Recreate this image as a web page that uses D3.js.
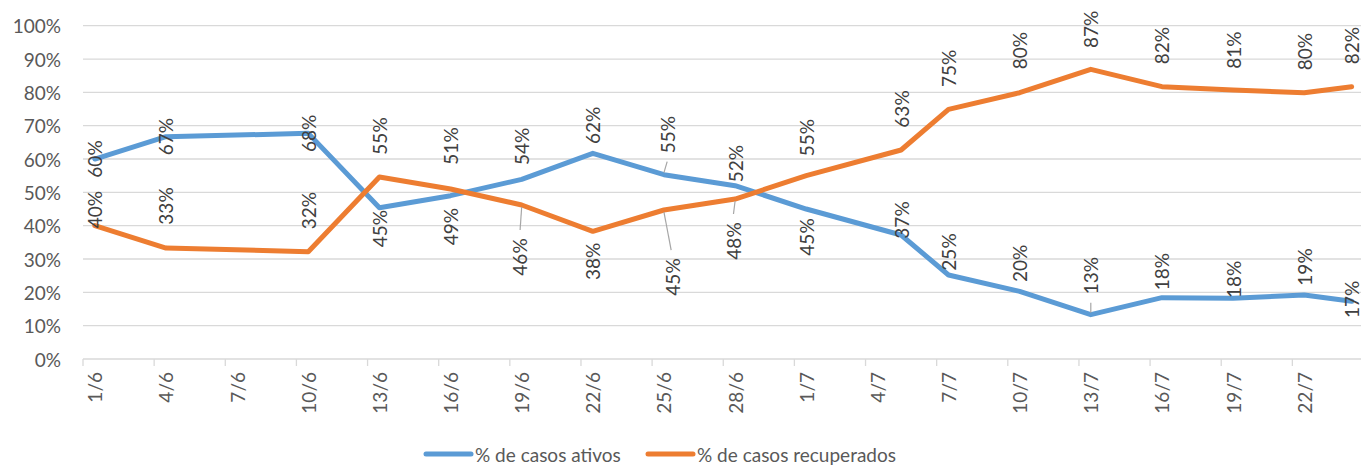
<!DOCTYPE html>
<html>
<head>
<meta charset="utf-8">
<script src="https://cdn.jsdelivr.net/npm/d3@7"></script>
<style>
  body { margin: 0; background: #fff; }
  svg text { font-family: Lato, "Open Sans", sans-serif; }
</style>
</head>
<body>
<div id="chart"></div>
<script>
// data
var dates = ["1/6", "4/6", "10/6", "13/6", "16/6", "19/6", "22/6", "25/6", "28/6",
             "1/7", "5/7", "7/7", "10/7", "13/7", "16/7", "19/7", "22/7", "24/7"];
var ativos = [0.600, 0.667, 0.677, 0.454, 0.490, 0.539, 0.617, 0.553, 0.520,
              0.450, 0.372, 0.252, 0.203, 0.133, 0.184, 0.182, 0.192, 0.173];
var recuperados = [0.400, 0.333, 0.322, 0.546, 0.510, 0.462, 0.383, 0.447, 0.480,
                   0.550, 0.627, 0.749, 0.799, 0.869, 0.817, 0.807, 0.799, 0.817];
var yTicks = [0, 0.1, 0.2, 0.3, 0.4, 0.5, 0.6, 0.7, 0.8, 0.9, 1];
var seriesNames = ["% de casos ativos", "% de casos recuperados"];

// label placement (how the labels were shifted in the original)
var ativosLabelDy = [0, 0, 0, 21, 31, -33, -28, -40, -22, 28, -15, -23, -28, -39, -26, -19, -28, -2];
var recupLabelDy = [-16, -42, -41, -41, -43, 52, 30, 67, 42, -38, -41, -41, -42, -40, -41, -40, -41, -41];
var ativosLabelDx = [0, 0, 0, 0, 0, 0, 0, 4, 0, 0, 0, 0, 0, 0, 0, 0, 0, 0];
var recupLabelDx = [0, 0, 0, 0, 0, -2, 0, 9, -2, 0, 0, 0, 0, 0, 0, 0, 0, 0];
var ativosLeader = [7, 13];
var recupLeader = [5, 7, 8];

var width = 1361;
var height = 465;
var colors = ["#5b9bd5", "#ed7d31"];

var svg = d3.select("#chart").append("svg")
    .attr("width", width)
    .attr("height", height);

var parse = d3.timeParse("%d/%m/%Y");
function toDate(s) { return parse(s + "/2020"); }

// x is a date axis, each day is one slot; points sit in the middle of the slot
var xScale = d3.scaleTime()
    .domain([toDate("1/6"), toDate("25/7")])
    .range([83, 1363.5]);
var yScale = d3.scaleLinear()
    .domain([0, 1])
    .range([359, 25.7]);

function xMid(s) { return xScale(d3.timeHour.offset(toDate(s), 12)); }

// gridlines
svg.append("g").selectAll("line").data(yTicks).enter()
    .append("line")
    .attr("x1", xScale.range()[0])
    .attr("x2", width)
    .attr("y1", function(d) { return yScale(d); })
    .attr("y2", function(d) { return yScale(d); })
    .attr("stroke", "#d9d9d9")
    .attr("stroke-width", 1.3);

// y labels
svg.append("g").selectAll("text").data(yTicks).enter()
    .append("text")
    .attr("x", 61)
    .attr("y", function(d) { return yScale(d); })
    .attr("text-anchor", "end")
    .attr("dominant-baseline", "central")
    .attr("font-size", 19)
    .attr("fill", "#595959")
    .text(d3.format(".0%"));

// x tick marks every 3 days
var tickDates = d3.timeDay.range(toDate("1/6"), toDate("25/7"), 1)
    .filter(function(d, i) { return i % 3 === 0; });
svg.append("g").selectAll("line").data(tickDates).enter()
    .append("line")
    .attr("x1", function(d) { return xScale(d); })
    .attr("x2", function(d) { return xScale(d); })
    .attr("y1", 359)
    .attr("y2", 366)
    .attr("stroke", "#d9d9d9")
    .attr("stroke-width", 1.3);

var fmtTick = d3.timeFormat("%-d/%-m");
svg.append("g").selectAll("text").data(tickDates).enter()
    .append("text")
    .attr("transform", function(d) {
        return "translate(" + xScale(d3.timeHour.offset(d, 12)) + ",372) rotate(-90)";
    })
    .attr("text-anchor", "end")
    .attr("dominant-baseline", "central")
    .attr("font-size", 19)
    .attr("fill", "#595959")
    .text(fmtTick);

// lines
var line = d3.line()
    .x(function(d) { return xMid(d.date); })
    .y(function(d) { return yScale(d.value); });

var series = [ativos, recuperados].map(function(vals, k) {
    return {
        color: colors[k],
        points: dates.map(function(dt, i) { return { date: dt, value: vals[i] }; }),
        dy: k === 0 ? ativosLabelDy : recupLabelDy,
        dx: k === 0 ? ativosLabelDx : recupLabelDx,
        leaders: k === 0 ? ativosLeader : recupLeader
    };
});

series.forEach(function(s) {
    svg.append("path")
        .datum(s.points)
        .attr("d", line)
        .attr("fill", "none")
        .attr("stroke", s.color)
        .attr("stroke-width", 5)
        .attr("stroke-linejoin", "round")
        .attr("stroke-linecap", "round");
});

// data labels, rotated
var labelHalf = 19;
series.forEach(function(s) {
    var g = svg.append("g");
    // leader lines
    s.leaders.forEach(function(i) {
        var p = s.points[i];
        var px = xMid(p.date), py = yScale(p.value);
        var dir = s.dy[i] > 0 ? 1 : -1;
        var ly = py + s.dy[i] - dir * (labelHalf + 8);
        g.append("line")
            .attr("x1", px)
            .attr("y1", py + dir * 2)
            .attr("x2", px + s.dx[i] * 0.8)
            .attr("y2", ly)
            .attr("stroke", "#a6a6a6")
            .attr("stroke-width", 1.2);
    });
    g.selectAll("text").data(s.points).enter()
        .append("text")
        .attr("transform", function(d, i) {
            return "translate(" + (xMid(d.date) + s.dx[i]) + "," + (yScale(d.value) + s.dy[i]) + ") rotate(-90)";
        })
        .attr("text-anchor", "middle")
        .attr("dominant-baseline", "central")
        .attr("font-size", 19)
        .attr("fill", "#404040")
        .text(function(d) { return d3.format(".0%")(d.value); });
});

// legend
var legend = svg.append("g").attr("transform", "translate(0,454)");
var legendX = [426, 648];
seriesNames.forEach(function(name, k) {
    legend.append("line")
        .attr("x1", legendX[k])
        .attr("x2", legendX[k] + 45)
        .attr("y1", 0)
        .attr("y2", 0)
        .attr("stroke", colors[k])
        .attr("stroke-width", 5)
        .attr("stroke-linecap", "round");
    legend.append("text")
        .attr("x", legendX[k] + 49)
        .attr("y", 0)
        .attr("dominant-baseline", "central")
        .attr("font-size", 19)
        .attr("fill", "#595959")
        .text(name);
});
</script>
</body>
</html>
